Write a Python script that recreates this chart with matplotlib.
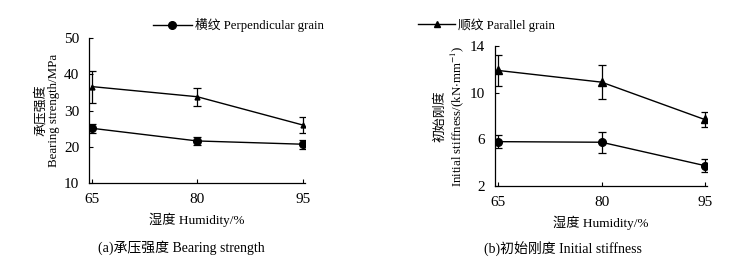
import numpy as np
from matplotlib import pyplot as plt
from matplotlib.lines import Line2D

plt.rcParams['font.family'] = ['Liberation Serif', 'Noto Sans CJK SC']
plt.rcParams['mathtext.fontset'] = 'stix'
plt.rcParams['font.size'] = 9.5

humidity = [65, 80, 95]

# (a) bearing strength, MPa
bear_perp = [25.1, 21.6, 20.7]
bear_perp_err = [1.2, 1.2, 1.3]
bear_para = [36.6, 33.8, 26.0]
bear_para_err = [4.4, 2.5, 2.2]

# (b) initial stiffness, kN/mm
stiff_perp = [5.8, 5.75, 3.75]
stiff_perp_err = [0.55, 0.9, 0.55]
stiff_para = [11.9, 10.9, 7.7]
stiff_para_err = [1.3, 1.45, 0.65]

fig = plt.figure(figsize=(7.4, 2.64), dpi=100)
ax1 = fig.add_axes([0.1203, 0.3068, 0.2917, 0.5492])
ax2 = fig.add_axes([0.669, 0.2955, 0.286, 0.5303])

def style(ax):
    for s in ['top', 'right']:
        ax.spines[s].set_visible(False)
    for s in ['left', 'bottom']:
        ax.spines[s].set_linewidth(0.9)
    ax.tick_params(direction='in', length=3, width=0.8, labelsize=11)
    ax.tick_params(axis='x', pad=7)
    ax.tick_params(axis='y', pad=7)
    ax.set_xticks(humidity)

kw = dict(color='black', lw=1.0, capsize=3, elinewidth=0.9, capthick=0.9)

ax1.errorbar(humidity, bear_perp, yerr=bear_perp_err, marker='o', ms=5.5, **kw)
ax1.errorbar(humidity, bear_para, yerr=bear_para_err, marker='^', ms=3.5, **kw)
style(ax1)
ax1.set_xlim(64.6, 95.3)
ax1.set_ylim(10, 50)
ax1.set_yticks([10, 20, 30, 40, 50])
ax1.set_xlabel('湿度 Humidity/%', fontsize=9.5, labelpad=5)
ax1.set_ylabel('承压强度\nBearing strength/MPa', fontsize=9.3, labelpad=3, linespacing=1.15)

ax2.errorbar(humidity, stiff_perp, yerr=stiff_perp_err, marker='o', ms=5.5, **kw)
ax2.errorbar(humidity, stiff_para, yerr=stiff_para_err, marker='^', ms=5.5, **kw)
style(ax2)
ax2.set_xlim(64.5, 95.3)
ax2.set_ylim(2, 14)
ax2.set_yticks([2, 6, 10, 14])
ax2.set_xlabel('湿度 Humidity/%', fontsize=9.5, labelpad=5)
ax2.set_ylabel('初始刚度\nInitial stiffness/(kN$\\cdot$mm$^{-1}$)', fontsize=9.3,
               labelpad=3, linespacing=1.15)

h1 = Line2D([], [], color='black', lw=1.0, marker='o', ms=5.5)
h2 = Line2D([], [], color='black', lw=1.0, marker='^', ms=5)
fig.legend([h1], ['横纹 Perpendicular grain'], loc='center left',
           bbox_to_anchor=(0.207, 0.905), frameon=False, handlelength=3.0,
           handletextpad=0.25, fontsize=9.2, borderaxespad=0, borderpad=0)
fig.legend([h2], ['顺纹 Parallel grain'], loc='center left',
           bbox_to_anchor=(0.565, 0.905), frameon=False, handlelength=2.9,
           handletextpad=0.25, fontsize=9.2, borderaxespad=0, borderpad=0)

fig.text(0.245, 0.06, '(a)承压强度 Bearing strength', ha='center', va='center', fontsize=10)
fig.text(0.761, 0.06, '(b)初始刚度 Initial stiffness', ha='center', va='center', fontsize=10)

fig.savefig('out.png', dpi=100)
